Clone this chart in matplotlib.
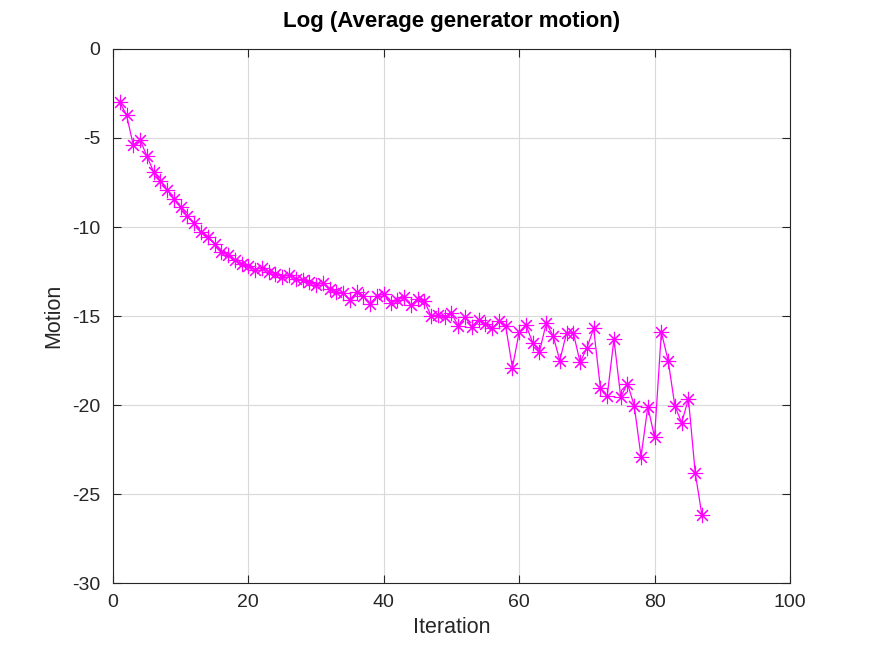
import numpy as np
import matplotlib
matplotlib.use("Agg")
import matplotlib.pyplot as plt

plt.rcParams['font.family'] = ['Liberation Sans', 'DejaVu Sans']
plt.rcParams['axes.unicode_minus'] = False

iterations = np.arange(1, 88)
motion = [
    -3.0, -3.7, -5.4, -5.1, -6.0, -6.9, -7.4, -7.9, -8.4, -8.9,
    -9.4, -9.8, -10.3, -10.55, -10.95, -11.4, -11.6, -11.85, -12.1, -12.2,
    -12.4, -12.3, -12.5, -12.65, -12.8, -12.7, -12.9, -13.0, -13.1, -13.25,
    -13.15, -13.5, -13.65, -13.7, -14.1, -13.65, -13.9, -14.3, -13.9, -13.75,
    -14.25, -14.1, -13.95, -14.4, -14.05, -14.15, -15.0, -14.95, -15.05, -14.85,
    -15.55, -15.05, -15.6, -15.2, -15.45, -15.7, -15.3, -15.55, -17.9, -15.9,
    -15.5, -16.5, -17.0, -15.4, -16.1, -17.5, -15.95, -15.95, -17.6, -16.8,
    -15.7, -19.05, -19.5, -16.3, -19.55, -18.8, -20.05, -22.9, -20.1, -21.8,
    -15.9, -17.5, -20.05, -21.0, -19.65, -23.8, -26.2,
]

fig = plt.figure(figsize=(8.73, 6.55), dpi=100)
ax = fig.add_axes([0.1294, 0.1099, 0.7755, 0.8153])

# octave-style asterisk: 8 arms
ax.plot(iterations, motion, color='#ff00ff', linewidth=0.9,
        marker=(8, 2, 0), markersize=11, markeredgewidth=0.8)

ax.set_xlim(0, 100)
ax.set_ylim(-30, 0)
ax.set_xticks([0, 20, 40, 60, 80, 100])
ax.set_yticks([-30, -25, -20, -15, -10, -5, 0])
ax.grid(True, color='#d9d9d9', linewidth=0.8)
ax.set_axisbelow(True)
ax.tick_params(direction='in', length=6, labelsize=14, colors='#262626',
               top=True, right=True)
ax.tick_params(axis='x', pad=8)
ax.tick_params(axis='y', pad=9)
for s in ax.spines.values():
    s.set_color('#262626')
    s.set_linewidth(0.8)

ax.set_xlabel('Iteration', fontsize=15.5, color='#262626', labelpad=4)
ax.set_ylabel('Motion', fontsize=15.5, color='#262626', labelpad=6)
ax.set_title('Log (Average generator motion)', fontsize=16, fontweight='bold', pad=16)

fig.savefig('out.png', dpi=100)
